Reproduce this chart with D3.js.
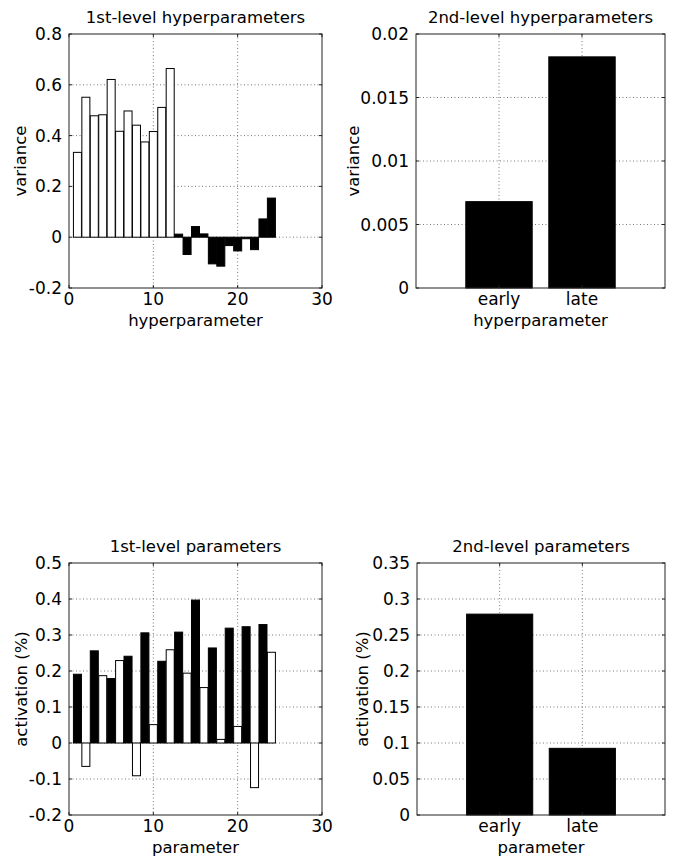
<!DOCTYPE html>
<html>
<head>
<meta charset="utf-8">
<script src="https://cdn.jsdelivr.net/npm/d3@7"></script>
<style>
  body { margin: 0; background: #fff; }
  svg { display: block; }
  text { font-family: "DejaVu Sans", sans-serif; fill: #000; }
</style>
</head>
<body>
<svg id="chart" width="676" height="859"></svg>
<script>
// 1st-level hyperparameters (bars 1..24)
const hyper1Values = [0.334, 0.551, 0.478, 0.482, 0.621, 0.417, 0.497, 0.441, 0.375, 0.416, 0.511, 0.664,
                      0.012, -0.068, 0.042, 0.013, -0.105, -0.114, -0.033, -0.054, -0.006, -0.049, 0.072, 0.154];
const hyper1White = [true, true, true, true, true, true, true, true, true, true, true, true,
                     false, false, false, false, false, false, false, false, false, false, false, false];

// 2nd-level hyperparameters
const levelCategories = ["early", "late"];
const hyper2Values = [0.0068, 0.0182];

// 1st-level parameters (odd = black, even = white)
const param1Values = [0.191, -0.065, 0.256, 0.187, 0.179, 0.229, 0.241, -0.091, 0.306, 0.051, 0.227, 0.259,
                      0.308, 0.194, 0.397, 0.154, 0.264, 0.010, 0.319, 0.046, 0.323, -0.124, 0.329, 0.252];
const param1White = param1Values.map((d, i) => i % 2 === 1);

// 2nd-level parameters
const param2Values = [0.279, 0.0926];

// tick labels
const hyper1YTicks = [-0.2, 0, 0.2, 0.4, 0.6, 0.8];
const hyper2YTicks = [0, 0.005, 0.01, 0.015, 0.02];
const param1YTicks = [-0.2, -0.1, 0, 0.1, 0.2, 0.3, 0.4, 0.5];
const param2YTicks = [0, 0.05, 0.1, 0.15, 0.2, 0.25, 0.3, 0.35];
const numXTicks = [0, 10, 20, 30];

const svg = d3.select("#chart");

function drawPanel(p) {
  const g = svg.append("g");
  const x = d3.scaleLinear().domain(p.xDomain).range([p.left, p.right]);
  const y = d3.scaleLinear().domain(p.yDomain).range([p.bottom, p.top]);

  // dotted grid
  const xGrid = p.xTicks.filter(t => t > p.xDomain[0] && t < p.xDomain[1]);
  const yGrid = p.yTicks.filter(t => t > p.yDomain[0] && t < p.yDomain[1]);
  g.selectAll(".gx").data(xGrid).join("line")
    .attr("x1", d => x(d)).attr("x2", d => x(d))
    .attr("y1", p.top).attr("y2", p.bottom)
    .attr("stroke", "#555").attr("stroke-width", 0.8).attr("stroke-dasharray", "1,2.5");
  g.selectAll(".gy").data(yGrid).join("line")
    .attr("x1", p.left).attr("x2", p.right)
    .attr("y1", d => y(d)).attr("y2", d => y(d))
    .attr("stroke", "#555").attr("stroke-width", 0.8).attr("stroke-dasharray", "1,2.5");

  // bars
  const bw = p.barWidth;
  g.selectAll(".bar").data(p.values).join("rect")
    .attr("x", (d, i) => x(p.xPos[i] - bw / 2))
    .attr("width", (d, i) => x(p.xPos[i] + bw / 2) - x(p.xPos[i] - bw / 2))
    .attr("y", d => y(Math.max(0, d)))
    .attr("height", d => Math.abs(y(d) - y(0)))
    .attr("fill", (d, i) => p.white && p.white[i] ? "#fff" : "#000")
    .attr("stroke", "#000").attr("stroke-width", 1);

  // box
  g.append("rect")
    .attr("x", p.left).attr("y", p.top)
    .attr("width", p.right - p.left).attr("height", p.bottom - p.top)
    .attr("fill", "none").attr("stroke", "#222").attr("stroke-width", 1);

  // inward tick marks
  const tl = 3;
  g.selectAll(".ty").data(p.yTicks).join("path")
    .attr("d", d => `M${p.left},${y(d)}h${tl}M${p.right},${y(d)}h${-tl}`)
    .attr("stroke", "#222");
  g.selectAll(".tx").data(p.xTicks).join("path")
    .attr("d", d => `M${x(d)},${p.bottom}v${-tl}M${x(d)},${p.top}v${tl}`)
    .attr("stroke", "#222");

  // tick labels
  g.selectAll(".ly").data(p.yTicks).join("text")
    .attr("x", p.left - 7).attr("y", d => y(d))
    .attr("text-anchor", "end").attr("dominant-baseline", "central")
    .attr("font-size", 17)
    .text(d => d === 0 ? "0" : String(d));
  g.selectAll(".lx").data(p.xTicks).join("text")
    .attr("x", d => x(d)).attr("y", p.bottom + 11)
    .attr("text-anchor", "middle").attr("dominant-baseline", "central")
    .attr("font-size", 17)
    .text((d, i) => p.xLabels ? p.xLabels[i] : d);

  // title and axis labels
  g.append("text")
    .attr("x", (p.left + p.right) / 2).attr("y", p.top - 17)
    .attr("text-anchor", "middle").attr("dominant-baseline", "central")
    .attr("font-size", 16.5).text(p.title);
  g.append("text")
    .attr("x", (p.left + p.right) / 2).attr("y", p.bottom + 32)
    .attr("text-anchor", "middle").attr("dominant-baseline", "central")
    .attr("font-size", 16.5).text(p.xLabel);
  g.append("text")
    .attr("transform", `translate(${p.yLabelX},${(p.top + p.bottom) / 2}) rotate(-90)`)
    .attr("text-anchor", "middle").attr("dominant-baseline", "central")
    .attr("font-size", 16.5).text(p.yLabel);
}

const idx24 = d3.range(1, 25);

drawPanel({
  left: 69, right: 322, top: 34, bottom: 288,
  xDomain: [0, 30], yDomain: [-0.2, 0.8],
  xTicks: numXTicks, yTicks: hyper1YTicks,
  xPos: idx24, values: hyper1Values, white: hyper1White, barWidth: 0.95,
  title: "1st-level hyperparameters", xLabel: "hyperparameter", yLabel: "variance", yLabelX: 20
});

drawPanel({
  left: 416, right: 665, top: 34, bottom: 288,
  xDomain: [0, 3], yDomain: [0, 0.02],
  xTicks: [1, 2], xLabels: levelCategories, yTicks: hyper2YTicks,
  xPos: [1, 2], values: hyper2Values, barWidth: 0.8,
  title: "2nd-level hyperparameters", xLabel: "hyperparameter", yLabel: "variance", yLabelX: 353
});

drawPanel({
  left: 69, right: 322, top: 563, bottom: 815,
  xDomain: [0, 30], yDomain: [-0.2, 0.5],
  xTicks: numXTicks, yTicks: param1YTicks,
  xPos: idx24, values: param1Values, white: param1White, barWidth: 0.95,
  title: "1st-level parameters", xLabel: "parameter", yLabel: "activation (%)", yLabelX: 21
});

drawPanel({
  left: 417, right: 665, top: 563, bottom: 815,
  xDomain: [0, 3], yDomain: [0, 0.35],
  xTicks: [1, 2], xLabels: levelCategories, yTicks: param2YTicks,
  xPos: [1, 2], values: param2Values, barWidth: 0.8,
  title: "2nd-level parameters", xLabel: "parameter", yLabel: "activation (%)", yLabelX: 362
});
</script>
</body>
</html>
